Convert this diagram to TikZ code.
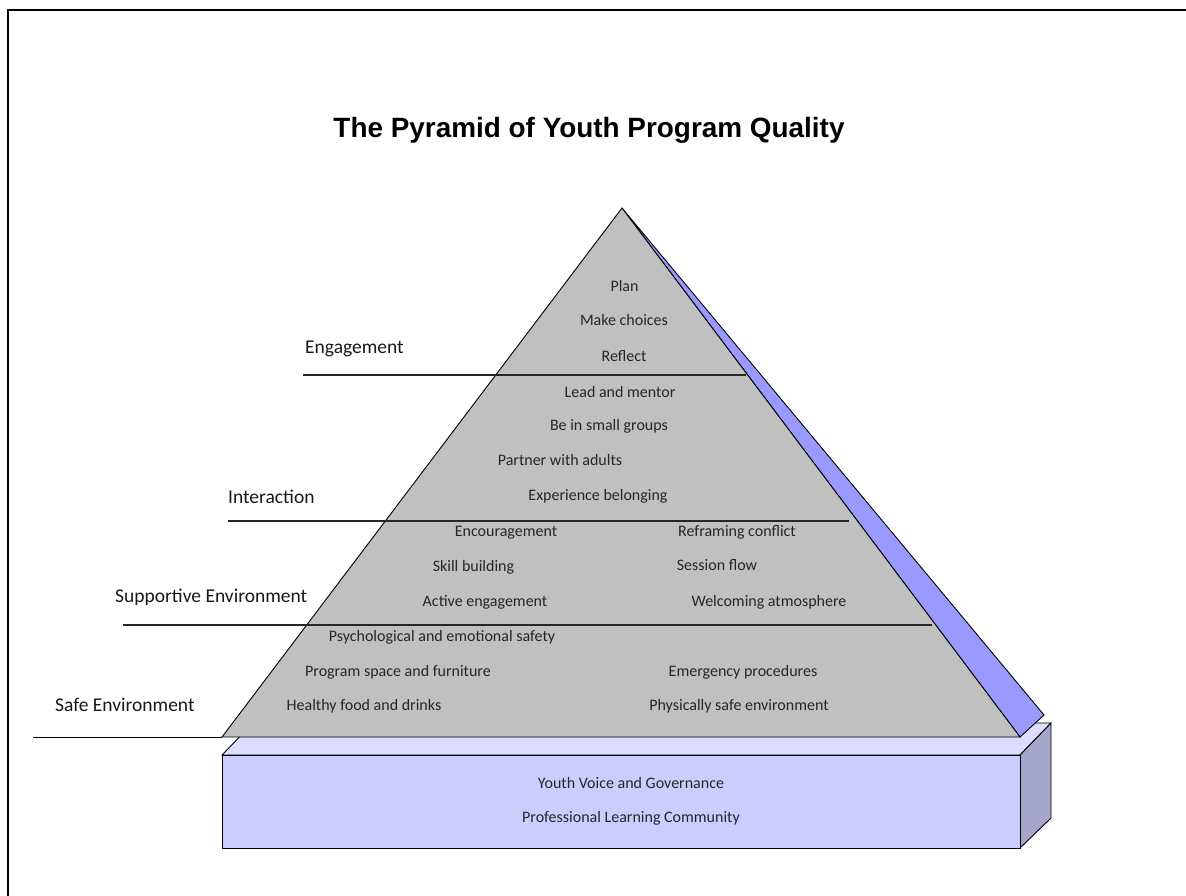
\documentclass[tikz,border=0pt]{standalone}
\usepackage{fontspec}
\setmainfont{Carlito}
\newfontfamily\titlefont{Liberation Sans}
\begin{document}
\begin{tikzpicture}[x=1pt,y=-1pt,
  outline/.style={draw=black,line width=0.9pt,line join=miter},
  levelline/.style={draw=black!85,line width=1.1pt},
  item/.style={anchor=base,inner sep=0pt,font=\fontsize{16}{19}\selectfont,text=black!85},
  level/.style={anchor=base west,inner sep=0pt,font=\fontsize{19.5}{23}\selectfont,text=black!90}]
\definecolor{pyrgray}{HTML}{C0C0C0}
\definecolor{sideblue}{HTML}{9999FF}
\definecolor{boxfront}{HTML}{CCCCFF}
\definecolor{boxtop}{HTML}{DDDDFF}
\definecolor{boxside}{HTML}{A6A6CC}
\useasboundingbox (0,0) rectangle (1186,895);
\fill[white] (0,0) rectangle (1186,895);

% page frame (top and left edges)
\draw[line width=2pt,line cap=rect] (8,895) -- (8,10) -- (1186,10);

% title
\node[anchor=base,inner sep=0pt,font=\titlefont\bfseries\fontsize{27.9}{32}\selectfont] (title) at (589,137) {The Pyramid of Youth Program Quality};

% base block
\coordinate (bFL) at (222,755);
\coordinate (bFR) at (1020,755);
\coordinate (bBR) at (1051,723);
\coordinate (bBL) at (253,723);
\coordinate (bLL) at (222,848);
\coordinate (bLR) at (1020,848);
\coordinate (bSR) at (1051,818);
\filldraw[outline,fill=boxtop] (bFL) -- (bFR) -- (bBR) -- (bBL) -- cycle;
\filldraw[outline,fill=boxside] (bFR) -- (bBR) -- (bSR) -- (bLR) -- cycle;
\filldraw[outline,fill=boxfront] (bFL) rectangle (bLR);

% pyramid
\coordinate (apex) at (622,208);
\coordinate (pL) at (222,737);
\coordinate (pR) at (1020,737);
\coordinate (sideTip) at (1044,715);
\filldraw[outline,fill=sideblue] (apex) -- (sideTip) -- (pR) -- cycle;
\filldraw[outline,fill=pyrgray] (apex) -- (pR) -- (pL) -- cycle;

% level separators
\draw[levelline] (303,375) -- (746,375);
\draw[levelline] (228,521) -- (849,521);
\draw[levelline] (123,625) -- (932,625);
\draw[outline] (33,737) -- (pL);

% level names
\node[level] (engagement) at (305,353) {Engagement};
\node[level] (interaction) at (228,503) {Interaction};
\node[level] (supportive) at (115,602) {Supportive Environment};
\node[level] (safe) at (55,711) {Safe Environment};

% engagement items
\node[item] (plan) at (624.5,291) {Plan};
\node[item] (choices) at (624,325) {Make choices};
\node[item] (reflect) at (624,361) {Reflect};

% interaction items
\node[item] (lead) at (620,397) {Lead and mentor};
\node[item] (groups) at (609,430) {Be in small groups};
\node[item] (partner) at (560,465) {Partner with adults};
\node[item] (belong) at (598,500) {Experience belonging};

% supportive environment items
\node[item] (encourage) at (506,536) {Encouragement};
\node[item] (reframe) at (737,536) {Reframing conflict};
\node[item] (skill) at (473.5,571) {Skill building};
\node[item] (flow) at (717,570) {Session flow};
\node[item] (active) at (485,606) {Active engagement};
\node[item] (welcome) at (769,606) {Welcoming atmosphere};

% safe environment items
\node[item] (psych) at (442,641) {Psychological and emotional safety};
\node[item] (space) at (398,676) {Program space and furniture};
\node[item] (emergency) at (743,676) {Emergency procedures};
\node[item] (food) at (364,710) {Healthy food and drinks};
\node[item] (physical) at (739,710) {Physically safe environment};

% foundation items
\node[item] (voice) at (631,788) {Youth Voice and Governance};
\node[item] (plc) at (631,822) {Professional Learning Community};
\end{tikzpicture}
\end{document}
